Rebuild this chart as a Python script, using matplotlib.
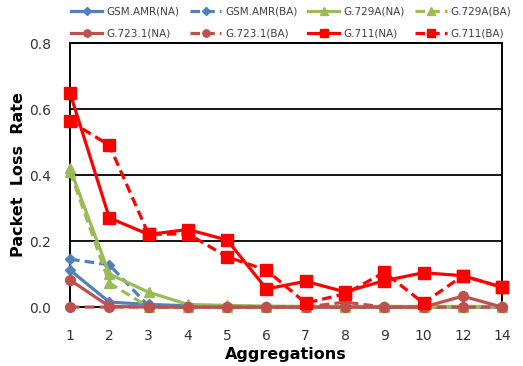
import matplotlib
matplotlib.use("Agg")
import matplotlib.pyplot as plt

# aggregation levels (categories on x)
aggregations = ["1", "2", "3", "4", "5", "6", "7", "8", "9", "10", "12", "14"]

gsm_na = [0.112, 0.015, 0.008, 0.004, 0.0, 0.0, 0.0, 0.0, 0.0, 0.0, 0.0, 0.0]
gsm_ba = [0.145, 0.128, 0.003, 0.0, 0.0, 0.0, 0.0, 0.0, 0.0, 0.0, 0.0, 0.0]
g729_na = [0.42, 0.10, 0.045, 0.008, 0.005, 0.003, 0.002, 0.002, 0.002, 0.002, 0.002, 0.002]
g729_ba = [0.41, 0.073, 0.0, 0.0, 0.0, 0.0, 0.0, 0.0, 0.0, 0.0, 0.0, 0.0]
g723_na = [0.082, 0.002, 0.0, 0.0, 0.0, 0.0, 0.0, 0.0, 0.0, 0.0, 0.033, 0.0]
g723_ba = [0.0, 0.0, 0.0, 0.0, 0.0, 0.0, 0.0, 0.015, 0.0, 0.0, 0.0, 0.0]
g711_na = [0.648, 0.27, 0.22, 0.235, 0.203, 0.055, 0.078, 0.046, 0.08, 0.104, 0.095, 0.06]
g711_ba = [0.563, 0.49, 0.22, 0.222, 0.152, 0.112, 0.012, 0.04, 0.105, 0.012, 0.095, 0.06]

blue = "#4F81BD"
green = "#9BBB59"
brown = "#C0504D"
red = "#FF0000"
dash = (0, (3, 1.6))

series = [
    ("GSM.AMR(NA)", gsm_na, blue, "-", "D", 5.5),
    ("GSM.AMR(BA)", gsm_ba, blue, dash, "D", 5.5),
    ("G.729A(NA)", g729_na, green, "-", "^", 7),
    ("G.729A(BA)", g729_ba, green, dash, "^", 7),
    ("G.723.1(NA)", g723_na, brown, "-", "o", 7),
    ("G.723.1(BA)", g723_ba, brown, dash, "o", 7),
    ("G.711(NA)", g711_na, red, "-", "s", 8),
    ("G.711(BA)", g711_ba, red, dash, "s", 8),
]

fig = plt.figure(figsize=(5.23, 3.66), dpi=100)
ax = fig.add_axes([0.134, 0.161, 0.826, 0.7215])

xs = list(range(len(aggregations)))
handles = {}
for name, vals, col, ls, mk, ms in series:
    h, = ax.plot(xs, vals, color=col, linestyle=ls, linewidth=2.3,
                 marker=mk, markersize=ms, clip_on=False, label=name, zorder=3)
    handles[name] = h

ax.set_xlim(0, len(aggregations) - 1)
ax.set_ylim(0, 0.8)
ax.set_yticks([0.0, 0.2, 0.4, 0.6, 0.8])
ax.set_yticklabels(["0.0", "0.2", "0.4", "0.6", "0.8"])
ax.set_xticks(xs)
ax.set_xticklabels(aggregations)
ax.tick_params(axis="both", length=0, labelsize=10, colors="#333333")
ax.tick_params(axis="x", pad=16)
ax.tick_params(axis="y", pad=14)
ax.yaxis.grid(True, color="black", linewidth=1.3)
ax.set_axisbelow(True)
for sp in ax.spines.values():
    sp.set_color("black")
    sp.set_linewidth(1.4)

ax.set_xlabel("Aggregations", fontsize=11.5, fontweight="bold", labelpad=3)
ax.set_ylabel("Packet  Loss  Rate", fontsize=11.5, fontweight="bold", labelpad=2)

order = ["GSM.AMR(NA)", "G.723.1(NA)", "GSM.AMR(BA)", "G.723.1(BA)",
         "G.729A(NA)", "G.711(NA)", "G.729A(BA)", "G.711(BA)"]
fig.legend([handles[n] for n in order], order, ncol=4, loc="upper left",
           bbox_to_anchor=(0.13, 0.99), borderaxespad=0, borderpad=0.3,
           frameon=False, fontsize=7.5, handlelength=3.0, handletextpad=0.4,
           columnspacing=1.0, labelspacing=1.1, markerscale=0.75,
           labelcolor="#404040")

fig.savefig("out.png", dpi=100)
